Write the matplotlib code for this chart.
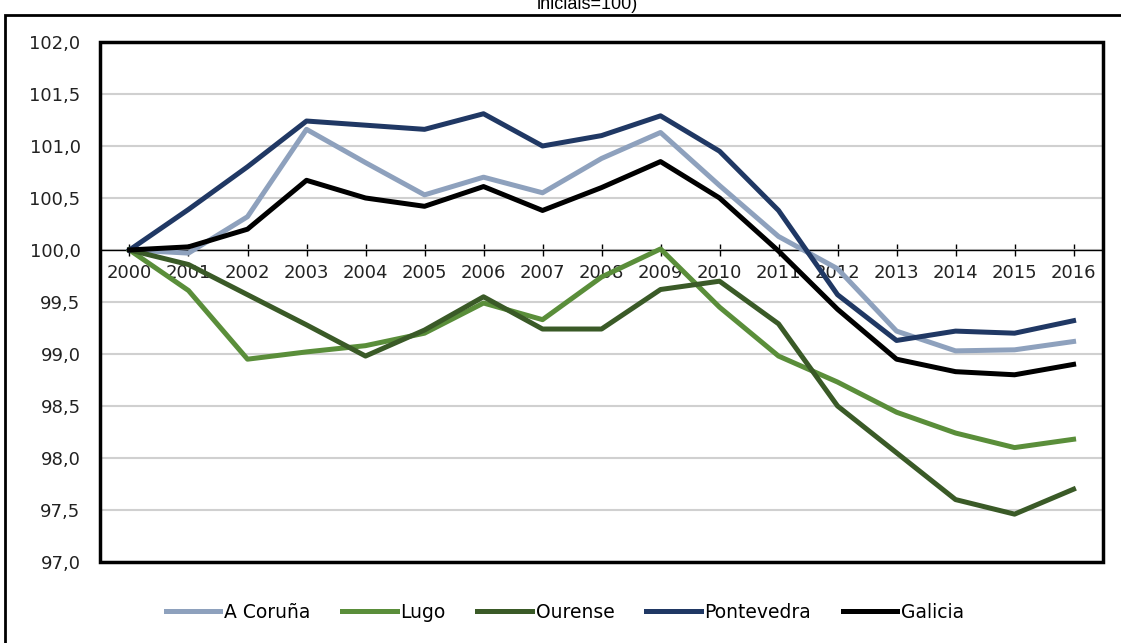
import matplotlib.pyplot as plt
from matplotlib.patches import Rectangle

years = [str(y) for y in range(2000, 2017)]

coruna = [100.0, 99.97, 100.32, 101.16, 100.84, 100.53, 100.70, 100.55, 100.88, 101.13,
          100.62, 100.13, 99.82, 99.22, 99.03, 99.04, 99.12]
lugo = [100.0, 99.61, 98.95, 99.02, 99.08, 99.20, 99.49, 99.33, 99.74, 100.01,
        99.45, 98.98, 98.73, 98.44, 98.24, 98.10, 98.18]
ourense = [100.0, 99.86, 99.57, 99.28, 98.98, 99.23, 99.55, 99.24, 99.24, 99.62,
           99.70, 99.29, 98.50, 98.05, 97.60, 97.46, 97.70]
pontevedra = [100.0, 100.39, 100.80, 101.24, 101.20, 101.16, 101.31, 101.00, 101.10, 101.29,
              100.95, 100.38, 99.57, 99.13, 99.22, 99.20, 99.32]
galicia = [100.0, 100.03, 100.20, 100.67, 100.50, 100.42, 100.61, 100.38, 100.60, 100.85,
           100.50, 99.99, 99.43, 98.95, 98.83, 98.80, 98.90]

series = [("A Coruña", coruna, "#8EA1BD"),
          ("Lugo", lugo, "#5A8E3A"),
          ("Ourense", ourense, "#3A5A27"),
          ("Pontevedra", pontevedra, "#203864"),
          ("Galicia", galicia, "#000000")]

plt.rcParams['font.family'] = ['DejaVu Sans']

fig = plt.figure(figsize=(11.21, 6.43), dpi=100)
ax = fig.add_axes([0.0892, 0.126, 0.8948, 0.8087])

x = range(len(years))
for name, vals, col in series:
    ax.plot(x, vals, color=col, linewidth=3.6, label=name, zorder=3,
            solid_joinstyle="round")

ax.set_xlim(-0.5, len(years) - 0.5)
ax.set_ylim(97, 102)

yt = [97 + 0.5 * i for i in range(11)]
ax.set_yticks(yt)
ax.set_yticklabels([f"{v:.1f}".replace(".", ",") for v in yt], fontsize=13, color="#222222")
ax.tick_params(axis="y", length=0, pad=14)
ax.yaxis.grid(True, color="#d0d0d0", linewidth=1.5, zorder=0)
ax.set_axisbelow(True)

# x axis crosses at 100
for s in ["top", "right", "left"]:
    ax.spines[s].set_visible(False)
ax.spines["bottom"].set_position(("data", 100))
ax.spines["bottom"].set_linewidth(1)
ax.spines["bottom"].set_zorder(2)
ax.set_xticks(list(x))
ax.set_xticklabels(years, fontsize=13, color="#222222")
ax.tick_params(axis="x", direction="inout", length=8, width=1, pad=6)

# plot-area frame
ax.add_patch(Rectangle((0, 0), 1, 1, transform=ax.transAxes, fill=False,
                       edgecolor="black", linewidth=2.5, clip_on=False, zorder=5))

# outer chart border (cut off at right and bottom)
fig.add_artist(Rectangle((5 / 1121, -0.1), 1.2, 1.1 - 15 / 643, transform=fig.transFigure,
                         fill=False, edgecolor="black", linewidth=2))

fig.text(587 / 1121, 634 / 643, "iniciais=100)", ha="center", va="baseline",
         fontsize=13, family="Liberation Sans")

fig.legend(loc="center", bbox_to_anchor=(565 / 1121, 0.048), ncol=5, frameon=False,
           fontsize=13.5, handlelength=2.9, handletextpad=0.2, columnspacing=1.7)

fig.savefig("out.png", dpi=100)
